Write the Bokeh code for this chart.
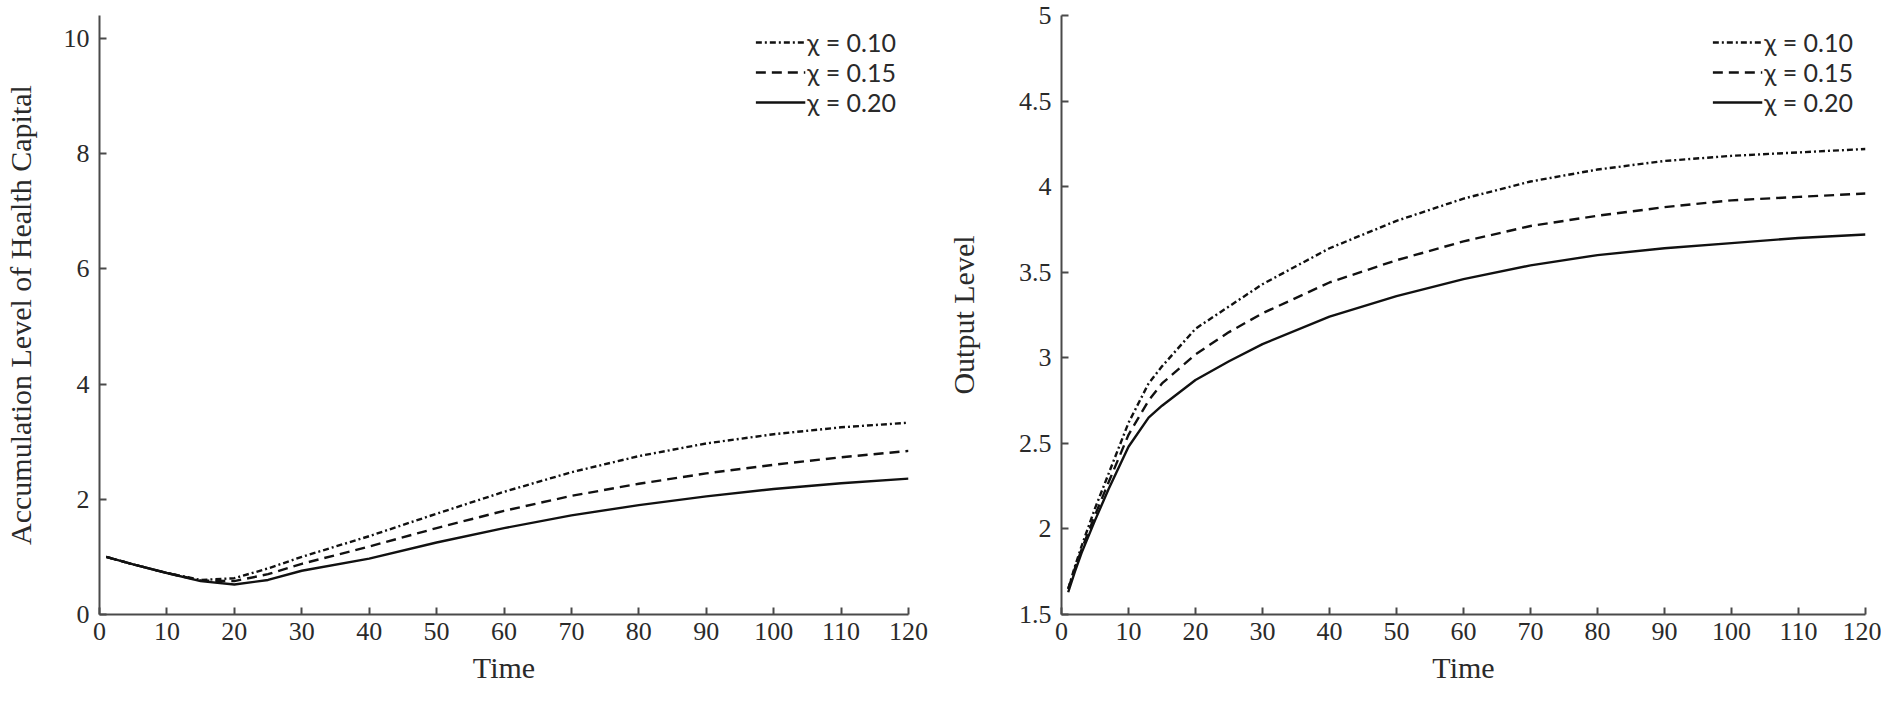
from bokeh.plotting import figure
from bokeh.layouts import row
from bokeh.models import Range1d, FixedTicker, CustomJSTickFormatter, Legend, LegendItem
from bokeh.embed import file_html
from bokeh.resources import INLINE

# ---- data: left panel (accumulation level of health capital)
t_left = [1, 5, 10, 15, 20, 25, 30, 40, 50, 60, 70, 80, 90, 100, 110, 120]
h_010 = [1.0, 0.87, 0.72, 0.60, 0.63, 0.80, 1.00, 1.36, 1.75, 2.13, 2.47, 2.75, 2.97, 3.13, 3.25, 3.33]
h_015 = [1.0, 0.87, 0.72, 0.59, 0.58, 0.70, 0.88, 1.18, 1.50, 1.80, 2.06, 2.27, 2.45, 2.60, 2.73, 2.84]
h_020 = [1.0, 0.87, 0.72, 0.58, 0.52, 0.60, 0.76, 0.97, 1.25, 1.50, 1.72, 1.90, 2.05, 2.18, 2.28, 2.36]

# ---- data: right panel (output level)
t_right = [1, 2, 3, 5, 7, 10, 13, 15, 20, 25, 30, 40, 50, 60, 70, 80, 90, 100, 110, 120]
y_010 = [1.65, 1.78, 1.90, 2.12, 2.32, 2.62, 2.85, 2.95, 3.17, 3.30, 3.43, 3.64, 3.80, 3.93, 4.03, 4.10, 4.15, 4.18, 4.20, 4.22]
y_015 = [1.65, 1.77, 1.88, 2.08, 2.27, 2.55, 2.75, 2.85, 3.02, 3.15, 3.26, 3.44, 3.57, 3.68, 3.77, 3.83, 3.88, 3.92, 3.94, 3.96]
y_020 = [1.63, 1.75, 1.86, 2.05, 2.23, 2.48, 2.65, 2.72, 2.87, 2.98, 3.08, 3.24, 3.36, 3.46, 3.54, 3.60, 3.64, 3.67, 3.70, 3.72]

legend_labels = ["\u03c7 = 0.10", "\u03c7 = 0.15", "\u03c7 = 0.20"]
x_ticks = [0, 10, 20, 30, 40, 50, 60, 70, 80, 90, 100, 110, 120]
left_yticks = [0, 2, 4, 6, 8, 10]
right_yticks = [1.5, 2, 2.5, 3, 3.5, 4, 4.5, 5]

SERIF = "Liberation Serif"
INK = "#111111"
AXC = "#4a4a4a"
TXT = "#2a2a2a"
styles = [dict(line_dash="6 3 2 3"), dict(line_dash="10 6"), dict(line_dash="solid")]

fmt = CustomJSTickFormatter(code="return tick.toString();")

FIG_H = 696
MB_TOP = 15
MB_BOTTOM = 82


def make(width, mbl, mbr, xr, yr, yticks, ylabel, ylab_standoff, t, series):
    p = figure(width=width, height=FIG_H, output_backend="svg", toolbar_location=None,
               x_range=Range1d(*xr), y_range=Range1d(*yr),
               min_border_left=mbl, min_border_right=mbr,
               min_border_top=MB_TOP, min_border_bottom=MB_BOTTOM)
    p.outline_line_color = None
    p.grid.visible = False
    p.background_fill_color = "white"
    p.border_fill_color = "white"
    for ax in (p.xaxis[0], p.yaxis[0]):
        ax.axis_line_color = AXC
        ax.axis_line_width = 2
        ax.major_tick_line_color = AXC
        ax.major_tick_line_width = 2
        ax.major_tick_in = 7
        ax.major_tick_out = 0
        ax.minor_tick_line_color = None
        ax.major_label_text_font = SERIF
        ax.major_label_text_font_size = "26px"
        ax.major_label_text_color = TXT
        ax.axis_label_text_font = SERIF
        ax.axis_label_text_font_size = "30px"
        ax.axis_label_text_font_style = "normal"
        ax.axis_label_text_color = TXT
        ax.formatter = fmt
    p.xaxis[0].ticker = FixedTicker(ticks=x_ticks)
    p.yaxis[0].ticker = FixedTicker(ticks=yticks)
    p.xaxis[0].axis_label = "Time"
    p.yaxis[0].axis_label = ylabel
    p.xaxis[0].major_label_standoff = 8
    p.yaxis[0].major_label_standoff = 10
    p.xaxis[0].axis_label_standoff = 8
    p.yaxis[0].axis_label_standoff = ylab_standoff
    items = []
    for lab, ys, st in zip(legend_labels, series, styles):
        r = p.line(t, ys, line_color=INK, line_width=2.4, **st)
        items.append(LegendItem(label=lab, renderers=[r]))
    leg = Legend(items=items, location="top_right", margin=12, padding=0, spacing=0,
                 glyph_width=50, glyph_height=26, label_standoff=2,
                 label_text_font="Lato", label_text_font_size="25px", label_text_color=TXT,
                 label_height=26,
                 background_fill_alpha=0, border_line_color=None)
    p.add_layout(leg)
    return p


p1 = make(938, 97, 30, (0, 120), (0, 10.4), left_yticks,
          "Accumulation Level of Health Capital", 24, t_left, [h_010, h_015, h_020])
p2 = make(943, 123, 16, (0, 120), (1.5, 5), right_yticks,
          "Output Level", 36, t_right, [y_010, y_015, y_020])

layout = row(p1, p2)
open("out.html", "w").write(file_html(layout, INLINE))
